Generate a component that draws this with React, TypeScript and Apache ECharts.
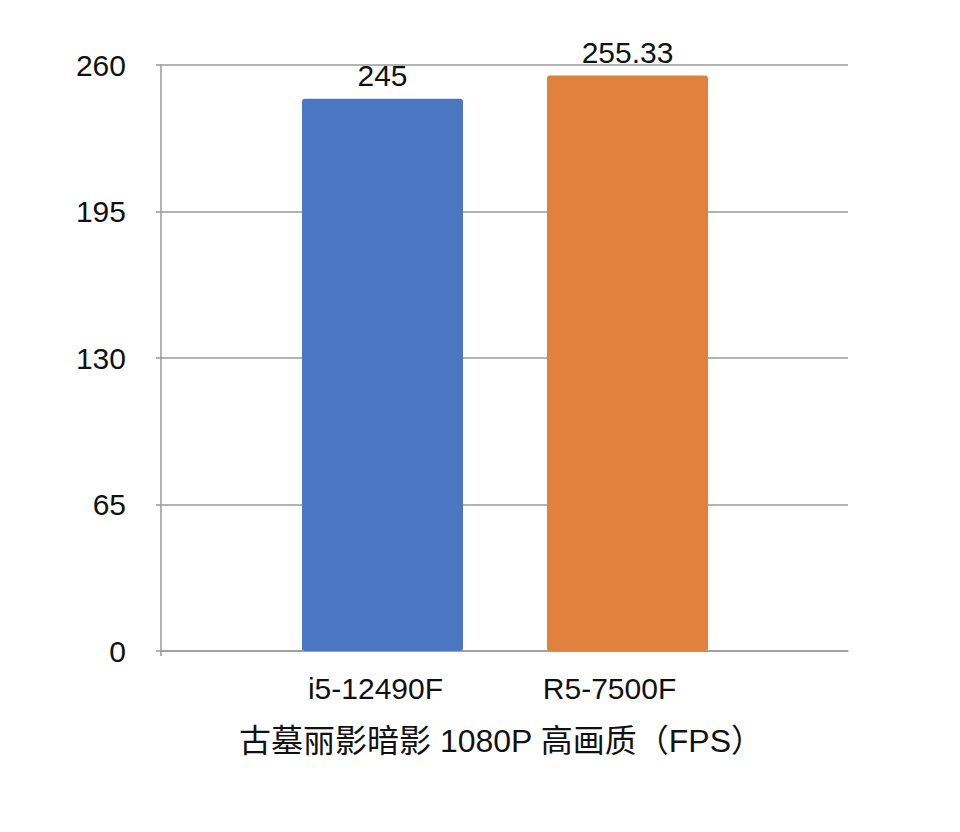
import * as echarts from "echarts";
import { useEffect, useRef } from "react";

const categories = ["i5-12490F", "R5-7500F"];
const fpsValues = [245, 255.33];
const barColors = ["#4A76C2", "#E0823D"];
const yMax = 260;
const yInterval = 65;
const chartTitle = "古墓丽影暗影 1080P 高画质（FPS）";

const FONT = '"Liberation Sans", Arial, "Noto Sans CJK SC", sans-serif';
const GRID_COLOR = "#9a9a9a";
const FS = 30;

function getOption() {
  return {
    animation: false,
    backgroundColor: "#ffffff",
    textStyle: { fontFamily: FONT },
    title: {
      text: chartTitle,
      left: 496,
      top: 720,
      textAlign: "center",
      textStyle: {
        fontFamily: FONT,
        fontSize: 32,
        fontWeight: "normal",
        color: "#111",
      },
    },
    grid: [
      { left: 161, right: 112, top: 65, bottom: 181 },
      { left: 260, right: 210, top: 65, bottom: 181 },
    ],
    xAxis: [
      {
        gridIndex: 0,
        type: "value",
        min: 0,
        max: 1,
        axisLine: { show: true, lineStyle: { color: GRID_COLOR, width: 1.5 } },
        axisTick: {
          show: true,
          length: 5,
          customValues: [0],
          lineStyle: { color: GRID_COLOR, width: 1.5 },
        },
        axisLabel: { show: false },
        splitLine: { show: false },
      },
      {
        gridIndex: 1,
        type: "category",
        data: categories,
        axisLine: { show: false },
        axisTick: { show: false },
        axisLabel: {
          margin: 22,
          formatter: (v: string, i: number) => (i === 0 ? `{a|${v}}` : `{b|${v}}`),
          rich: {
            a: { fontSize: FS, color: "#111", fontFamily: FONT, padding: [0, 14, 0, 0] },
            b: { fontSize: FS, color: "#111", fontFamily: FONT, padding: [0, 36, 0, 0] },
          },
        },
      },
    ],
    yAxis: [
      {
        gridIndex: 0,
        type: "value",
        min: 0,
        max: yMax,
        interval: yInterval,
        axisLine: { show: true, lineStyle: { color: GRID_COLOR, width: 1.5 } },
        axisTick: { show: true, length: 5, lineStyle: { color: GRID_COLOR, width: 1.5 } },
        axisLabel: { margin: 35, fontSize: FS, color: "#111", fontFamily: FONT },
        splitLine: { show: true, lineStyle: { color: GRID_COLOR, width: 1.5 } },
      },
      {
        gridIndex: 1,
        type: "value",
        min: 0,
        max: yMax,
        interval: yInterval,
        show: false,
        splitLine: { show: false },
      },
    ],
    series: [
      {
        type: "bar",
        xAxisIndex: 1,
        yAxisIndex: 1,
        barWidth: 161,
        data: fpsValues.map((v, i) => ({
          value: v,
          itemStyle: { color: barColors[i], borderRadius: [3, 3, 3, 3] },
        })),
        label: {
          show: true,
          position: "top",
          distance: 8,
          fontSize: FS,
          color: "#111",
          fontFamily: FONT,
        },
      },
    ],
  };
}

export default function App() {
  const ref = useRef<HTMLDivElement>(null);

  useEffect(() => {
    document.body.style.margin = "0";
    if (!ref.current) return;
    const chart = echarts.init(ref.current, undefined, { renderer: "svg" });
    chart.setOption(getOption());
    return () => {
      chart.dispose();
    };
  }, []);

  return <div ref={ref} style={{ width: 960, height: 832 }} />;
}
